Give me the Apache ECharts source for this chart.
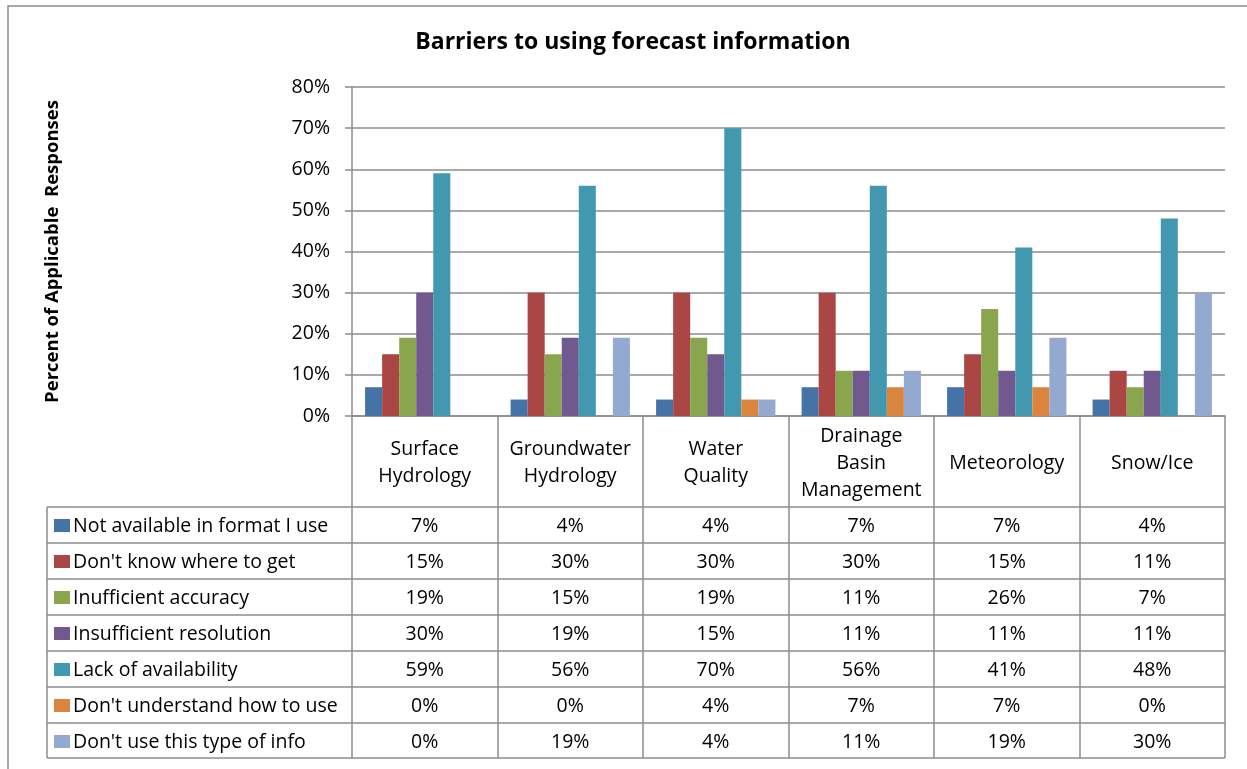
<!DOCTYPE html>
<html>
<head>
<meta charset="utf-8">
<script src="https://cdn.jsdelivr.net/npm/echarts@6/dist/echarts.min.js"></script>
<style>
html,body{margin:0;padding:0;background:#fff;}
#main{width:1247px;height:769px;}
</style>
</head>
<body>
<div id="main"></div>
<script>
const categories = ['Surface\nHydrology', 'Groundwater\nHydrology', 'Water\nQuality', 'Drainage\nBasin\nManagement', 'Meteorology', 'Snow/Ice'];
const seriesNames = ['Not available in format I use', "Don't know where to get", 'Inufficient accuracy', 'Insufficient resolution', 'Lack of availability', "Don't understand how to use", "Don't use this type of info"];
const notAvailable = [7, 4, 4, 7, 7, 4];
const dontKnowWhere = [15, 30, 30, 30, 15, 11];
const insuffAccuracy = [19, 15, 19, 11, 26, 7];
const insuffResolution = [30, 19, 15, 11, 11, 11];
const lackAvailability = [59, 56, 70, 56, 41, 48];
const dontUnderstand = [0, 0, 4, 7, 7, 0];
const dontUse = [0, 19, 4, 11, 19, 30];
const yTicks = [0, 10, 20, 30, 40, 50, 60, 70, 80];
const colors = ['#4572A7', '#AA4643', '#89A54E', '#71588F', '#4198AF', '#DB843D', '#93A9CF'];
const allSeries = [notAvailable, dontKnowWhere, insuffAccuracy, insuffResolution, lackAvailability, dontUnderstand, dontUse];

const FONT = 'Open Sans';
const FS = 19.5;
const GRID = {left: 352, right: 22, top: 87, bottom: 353};
const chart = echarts.init(document.getElementById('main'));

chart.setOption({
  animation: false,
  textStyle: {fontFamily: FONT},
  title: {
    text: 'Barriers to using forecast information',
    left: 628, top: 26, textAlign: 'center',
    textStyle: {fontFamily: FONT, fontSize: 23, fontWeight: 'bold', color: '#000'}
  },
  grid: GRID,
  xAxis: {
    type: 'category',
    data: categories,
    axisLine: {show: true, lineStyle: {color: '#8c8c8c', width: 1.5}},
    axisTick: {show: false},
    axisLabel: {
      interval: 0, margin: 47, verticalAlign: 'middle',
      fontFamily: FONT, fontSize: FS, lineHeight: 27, color: '#000'
    }
  },
  yAxis: {
    type: 'value', min: yTicks[0], max: yTicks[yTicks.length - 1], interval: 10,
    name: 'Percent of Applicable  Responses',
    nameLocation: 'middle', nameGap: 290,
    nameTextStyle: {fontFamily: FONT, fontSize: 18.5, fontWeight: 'bold', color: '#000'},
    axisLine: {show: true, lineStyle: {color: '#8c8c8c', width: 1.5}},
    axisTick: {show: true, length: 7, lineStyle: {color: '#8c8c8c', width: 1.5}},
    splitLine: {lineStyle: {color: '#8c8c8c', width: 1.5}},
    axisLabel: {formatter: '{value}%', margin: 22, fontFamily: FONT, fontSize: FS, color: '#000'}
  },
  series: allSeries.map((d, i) => ({
    name: seriesNames[i], type: 'bar', data: d,
    itemStyle: {color: colors[i]},
    barGap: '0%', barCategoryGap: '18%'
  }))
});

// Data table built from the same arrays
const axisY = chart.convertToPixel({yAxisIndex: 0}, 0);
const xLeft = GRID.left, xRight = 1247 - GRID.right;
const colW = (xRight - xLeft) / categories.length;
const tableLeft = 47;
const headerBottom = 507;
const rowH = 36;
const tableBottom = headerBottom + rowH * seriesNames.length - 1;
const lineStyle = {stroke: '#8c8c8c', lineWidth: 1.5};
const g = [];
g.push({type: 'rect', shape: {x: 8, y: 6, width: 1300, height: 900}, style: {fill: 'none', stroke: '#8c8c8c', lineWidth: 1.5}, silent: true});
for (let i = 0; i <= categories.length; i++) {
  const x = Math.round(xLeft + colW * i);
  g.push({type: 'line', shape: {x1: x, y1: axisY, x2: x, y2: tableBottom}, style: lineStyle});
}
g.push({type: 'line', shape: {x1: tableLeft, y1: headerBottom, x2: tableLeft, y2: tableBottom}, style: lineStyle});
for (let r = 0; r <= seriesNames.length; r++) {
  const y = Math.min(headerBottom + rowH * r, tableBottom);
  g.push({type: 'line', shape: {x1: tableLeft, y1: y, x2: xRight, y2: y}, style: lineStyle});
}
seriesNames.forEach((name, r) => {
  const cy = headerBottom + rowH * r + rowH / 2 + 1;
  g.push({type: 'rect', shape: {x: 54, y: cy - 7, width: 16, height: 13}, style: {fill: colors[r]}});
  g.push({type: 'text', x: 73, y: cy, style: {text: name, fontFamily: FONT, fontSize: FS, fill: '#000', textVerticalAlign: 'middle', textAlign: 'left'}});
  allSeries[r].forEach((v, c) => {
    const cx = chart.convertToPixel({xAxisIndex: 0}, c);
    g.push({type: 'text', x: cx, y: cy, style: {text: v + '%', fontFamily: FONT, fontSize: FS, fill: '#000', textVerticalAlign: 'middle', textAlign: 'center'}});
  });
});
chart.setOption({graphic: {elements: g}});
</script>
</body>
</html>
